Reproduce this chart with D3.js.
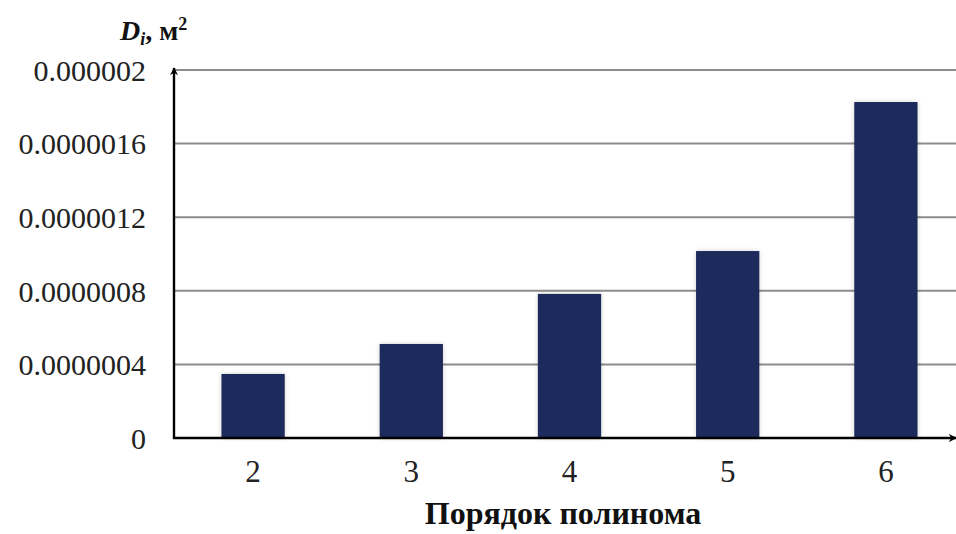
<!DOCTYPE html>
<html><head><meta charset="utf-8">
<script src="https://cdn.jsdelivr.net/npm/d3@7"></script>
</head><body style="margin:0">
<svg id="c" width="956" height="534" font-family="Liberation Serif" style="display:block;background:#fff"></svg>
<script>
const categories = ["2","3","4","5","6"];
const values = [3.48e-7, 5.11e-7, 7.83e-7, 1.016e-6, 1.826e-6];
const yTicks = [0, 4e-7, 8e-7, 1.2e-6, 1.6e-6, 2e-6];
const yTickLabels = ["0","0.0000004","0.0000008","0.0000012","0.0000016","0.000002"];
const xTitle = "Порядок полинома";

const FONT = "Liberation Serif";
const svg = d3.select("#c");
const x0 = 174, x1 = 965, yTop = 70, yBot = 438;
const x = d3.scaleBand().domain(categories).range([x0, x1]).paddingInner(0.6).paddingOuter(0.3);
const y = d3.scaleLinear().domain([0, 2e-6]).range([yBot, yTop]);

const defs = svg.append("defs");
const f = defs.append("filter").attr("id","sh").attr("x","-20%").attr("y","-5%").attr("width","140%").attr("height","110%");
f.append("feGaussianBlur").attr("in","SourceAlpha").attr("stdDeviation",2.5);
f.append("feComponentTransfer").append("feFuncA").attr("type","linear").attr("slope",0.18);
const m = f.append("feMerge"); m.append("feMergeNode"); m.append("feMergeNode").attr("in","SourceGraphic");
defs.append("marker").attr("id","arr").attr("viewBox","0 0 10 10").attr("refX",9).attr("refY",5)
  .attr("markerWidth",8).attr("markerHeight",8).attr("orient","auto-start-reverse").attr("markerUnits","userSpaceOnUse")
  .append("path").attr("d","M0,0 L10,5 L0,10 L3,5 Z").attr("fill","#000");

// gridlines
svg.append("g").selectAll("line").data(yTicks.filter(d=>d>0)).join("line")
  .attr("x1", x0).attr("x2", 956).attr("y1", d=>y(d)).attr("y2", d=>y(d))
  .attr("stroke","#8c8c8c").attr("stroke-width",2);

// bars
svg.append("g").selectAll("rect").data(values).join("rect")
  .attr("x",(d,i)=>x(categories[i])).attr("width",x.bandwidth())
  .attr("y",d=>y(d)).attr("height",d=>yBot-y(d))
  .attr("fill","#1f2a5c").attr("filter","url(#sh)");

// axes
const yAxis = d3.axisLeft(y).tickValues(yTicks).tickFormat((d,i)=>yTickLabels[i]).tickSize(0).tickPadding(28);
const gy = svg.append("g").attr("transform",`translate(${x0},0)`).call(yAxis);
gy.attr("font-family", FONT).attr("font-size", 30);
gy.select(".domain").remove();
gy.selectAll("text").attr("font-family",FONT).attr("font-size",30).attr("fill","#222").attr("dy","0.34em");

const xAxis = d3.axisBottom(x).tickSize(0).tickPadding(22);
const gx = svg.append("g").attr("transform",`translate(0,${yBot})`).call(xAxis);
gx.attr("font-family", FONT).attr("font-size", 31);
gx.select(".domain").remove();
gx.selectAll("text").attr("font-family",FONT).attr("font-size",31).attr("fill","#222");

svg.append("line").attr("x1",x0).attr("x2",x0).attr("y1",yBot+1).attr("y2",yTop-2)
  .attr("stroke","#000").attr("stroke-width",2.4).attr("marker-end","url(#arr)");
svg.append("line").attr("x1",x0-1).attr("x2",956).attr("y1",yBot).attr("y2",yBot)
  .attr("stroke","#000").attr("stroke-width",2.4).attr("marker-end","url(#arr)");

// titles
svg.append("text").attr("x",563).attr("y",524).attr("text-anchor","middle")
  .attr("font-family",FONT).attr("font-weight","bold").attr("font-size",32)
  .attr("fill","#111").text(xTitle);
const t = svg.append("text").attr("x",120).attr("y",40)
  .attr("font-family",FONT).attr("font-weight","bold").attr("font-size",28).attr("fill","#111");
t.append("tspan").attr("font-style","italic").text("D");
t.append("tspan").attr("font-style","italic").attr("font-size",18).attr("dy",5).text("i");
t.append("tspan").attr("dy",-5).text(", м");
t.append("tspan").attr("font-size",18).attr("dy",-10).text("2");
</script>
</body></html>
